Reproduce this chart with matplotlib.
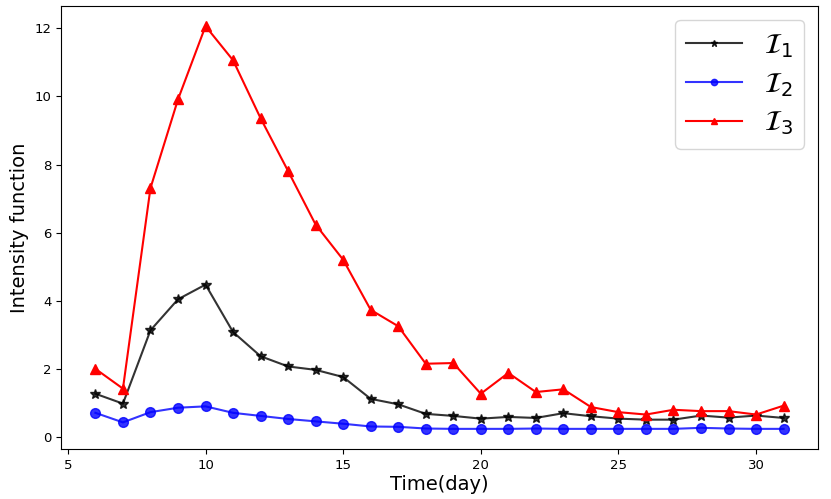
import matplotlib
matplotlib.use("Agg")
import matplotlib.pyplot as plt

days = list(range(6, 32))
I1 = [1.28, 0.99, 3.14, 4.05, 4.48, 3.09, 2.38, 2.08, 1.98, 1.77, 1.13, 0.97, 0.69,
      0.63, 0.55, 0.60, 0.57, 0.71, 0.62, 0.55, 0.52, 0.52, 0.64, 0.58, 0.64, 0.57]
I2 = [0.72, 0.44, 0.74, 0.87, 0.91, 0.72, 0.63, 0.54, 0.47, 0.40, 0.32, 0.31, 0.26,
      0.25, 0.25, 0.25, 0.26, 0.25, 0.25, 0.25, 0.25, 0.25, 0.28, 0.26, 0.25, 0.25]
I3 = [2.01, 1.43, 7.31, 9.91, 12.06, 11.06, 9.36, 7.81, 6.24, 5.21, 3.74, 3.26, 2.16,
      2.18, 1.28, 1.89, 1.33, 1.41, 0.89, 0.74, 0.67, 0.81, 0.77, 0.77, 0.67, 0.93]
labels = [r"$\mathcal{I}_1$", r"$\mathcal{I}_2$", r"$\mathcal{I}_3$"]

fig = plt.figure(figsize=(8.31, 4.99), dpi=100)
ax = fig.add_axes([61/831, 1-449/499, (818-61)/831, (449-6)/499])

ax.plot(days, I1, color="black", marker="*", alpha=0.8, lw=1.5, ms=7, label=labels[0])
ax.plot(days, I2, color="blue", marker="o", alpha=0.8, lw=1.5, ms=7, label=labels[1])
ax.plot(days, I3, color="red", marker="^", lw=1.5, ms=7.5, label=labels[2])

ax.set_xticks([5, 10, 15, 20, 25, 30])
ax.set_yticks([0, 2, 4, 6, 8, 10, 12])
ax.tick_params(labelsize=9.5)
ax.set_xlabel("Time(day)", fontsize=14, labelpad=2)
ax.set_ylabel("Intensity function", fontsize=14)
ax.legend(fontsize=20, markerscale=0.65, labelspacing=0.36, loc="upper right")

fig.savefig("out.png", dpi=100)
